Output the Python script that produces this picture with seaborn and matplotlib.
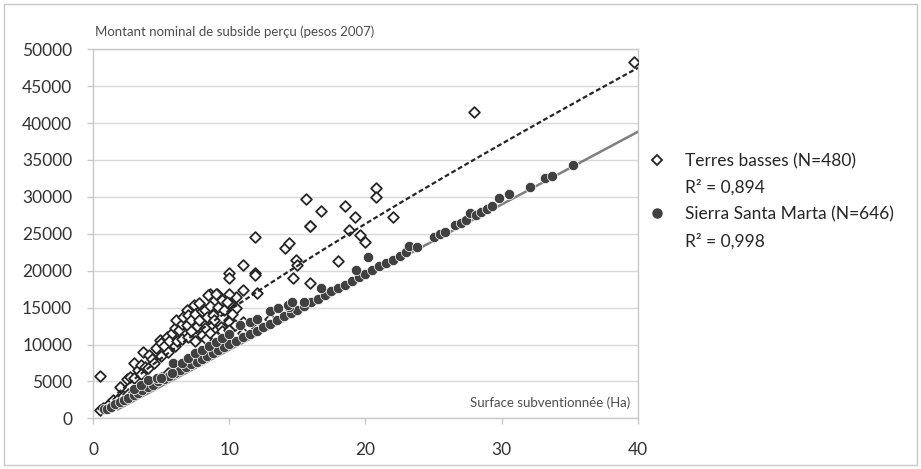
import numpy as np
import pandas as pd
import seaborn as sns
from matplotlib import pyplot as plt
from matplotlib.lines import Line2D
from matplotlib.patches import Rectangle

# Terres basses (open diamonds)
tb_x = [0.5, 28.0, 39.7, 20.8, 20.8, 15.6, 16.75, 18.5, 19.2, 15.9, 15.9, 18.8, 22.0, 19.6, 11.9,
        14.1, 14.4, 20.0, 11.0, 10.0, 10.0, 11.9, 11.9, 12.0, 14.9, 15.0, 14.7, 15.9, 18.0, 11.0,
        10.5, 10.0, 10.0, 10.5, 8.6, 9.1,
        2.0, 2.5, 2.7, 3.0, 3.3, 3.5, 3.7, 3.8, 4.1, 4.3, 4.6, 4.9, 5.0, 5.2, 5.4, 5.6, 5.8, 6.0,
        6.1, 6.3, 6.5, 6.6, 6.9, 6.9, 7.0, 7.2, 7.4, 7.5, 7.6, 7.8, 7.8, 8.0, 8.0, 8.2, 8.2, 8.4,
        8.45, 8.6, 8.8, 8.9, 9.0, 9.0, 9.2, 9.4, 9.5, 9.6, 9.8, 10.0, 10.0, 10.2,
        3.0, 3.5, 4.0, 4.5, 5.0, 5.5, 6.0, 6.2, 6.5, 7.0, 7.2, 7.5, 8.3, 8.6, 9.0, 9.5, 10.0, 10.4, 11.0,
        0.5, 0.7, 1.0, 1.2, 1.5, 1.8, 2.2, 2.6, 3.0, 3.4, 4.0, 4.5, 5.0, 5.5, 6.0, 6.5, 7.0, 7.5,
        8.0, 9.0, 10.0, 11.0, 12.0, 13.0]
tb_y = [5800, 41500, 48300, 31170, 30030, 29720, 28130, 28810, 27240, 26100, 26000, 25500, 27320, 24840, 24600,
        23030, 23700, 23850, 20770, 19650, 18970, 19650, 19400, 16940, 21450, 20800, 18970, 18290, 21360, 17380,
        16480, 16900, 15580, 15000, 16840, 16840,
        4300, 5300, 5640, 7450, 6500, 7200, 9030, 7000, 8580, 8000, 9500, 10610, 10200, 9800, 11060, 10500, 11500, 12200,
        13320, 12000, 12800, 13700, 14680, 12650, 14000, 13300, 15350, 14200, 12500, 15580, 13320, 14500, 11280, 14680, 12200, 13700,
        16700, 15200, 14000, 13320, 16900, 12000, 15130, 12430, 16000, 14680, 15800, 13320, 13000, 14200,
        5500, 6000, 6800, 7500, 8500, 9000, 9800, 10500, 10800, 11000, 11800, 10500, 10800, 11600, 11000, 11800, 12000, 12600, 13000,
        1100, 1400, 1600, 2000, 2450, 2600, 3000, 3300, 3600, 4000, 4500, 5000, 5500, 6200, 6800, 7200, 7600, 8200,
        8600, 9500, 10500, 11500, 12200, 13500]

# Sierra Santa Marta (filled circles)
ssm_x = [0.8, 1.0, 1.3, 1.6, 2.0, 2.3, 2.6, 3.0, 3.3, 3.6, 4.0, 4.4, 4.8, 5.2, 5.6, 6.0, 6.4, 6.8, 7.2, 7.6,
         8.0, 8.4, 8.8, 9.2, 9.6, 10.0, 10.5, 11.0, 11.5, 12.0, 12.5, 13.0, 13.5, 14.0, 14.5, 15.0, 15.5, 16.0,
         16.5, 17.0, 17.5, 18.0, 18.5, 19.0, 19.5, 20.0, 20.5, 21.0, 21.5, 22.0, 22.5, 23.0, 23.2, 23.8, 25.0,
         25.5, 25.8, 26.6, 27.0, 27.4, 27.7, 28.1, 28.5, 28.9, 29.3, 29.8, 30.5, 32.1, 33.2, 33.7, 35.2,
         20.2, 19.3, 16.75, 14.4, 15.5,
         3.0, 3.5, 4.05, 4.7, 5.0, 5.8, 5.9, 6.5, 7.0, 7.5, 8.0, 8.5, 9.0, 9.5, 10.0, 10.8, 11.5, 12.0, 13.0,
         13.6, 14.3, 14.6]
ssm_y = [1200, 1300, 1600, 1900, 2200, 2500, 2800, 3200, 3500, 3800, 4200, 4500, 5000, 5300, 5800, 6200, 6500, 6900, 7300, 7700,
         8100, 8500, 8900, 9300, 9700, 10100, 10500, 11000, 11400, 11900, 12400, 12800, 13300, 13800, 14300, 14700, 15200, 15700,
         16200, 16700, 17200, 17600, 18100, 18600, 19100, 19600, 20100, 20600, 21000, 21500, 22000, 22500, 23350, 23250, 24600,
         25000, 25290, 26190, 26500, 26900, 27780, 27500, 27900, 28300, 28700, 29810, 30350, 31380, 32520, 32880, 34330,
         21900, 20100, 17620, 15120, 15800,
         4000, 4500, 5190, 5400, 5400, 6100, 7450, 7500, 8200, 8800, 9300, 9800, 10300, 10900, 11400, 12640, 13000, 13500, 14500,
         15000, 15350, 15800]

# Excel trendlines
tb_power = (2072, 0.849)      # y = a * x^b
ssm_linear = (985, -570)      # y = slope * x + intercept
trend_start = 1.8
trend_end = 40

x_ticks = [0, 10, 20, 30, 40]
y_ticks = list(range(0, 50001, 5000))

sns.set_theme(style="white")
plt.rcParams["font.family"] = ["Lato", "DejaVu Sans"]

fig = plt.figure(figsize=(9.21, 4.69), dpi=100)
ax = fig.add_axes([0.101, 0.108, 0.5917, 0.787])

tb = pd.DataFrame({"x": tb_x, "y": tb_y})
ssm = pd.DataFrame({"x": ssm_x, "y": ssm_y})

sns.scatterplot(data=tb, x="x", y="y", marker="D", s=30, facecolor="white",
                edgecolor="#262626", linewidth=1.3, ax=ax, zorder=3)

xs = np.linspace(trend_start, trend_end, 200)
ax.plot(xs, tb_power[0] * xs ** tb_power[1], color="#262626", linestyle=(0, (2.2, 1.2)), linewidth=1.6, zorder=4)
ax.plot(xs, ssm_linear[0] * xs + ssm_linear[1], color="#7f7f7f", linewidth=1.8, zorder=4)

sns.scatterplot(data=ssm, x="x", y="y", marker="o", s=55, color="#404040",
                edgecolor="white", linewidth=0.5, ax=ax, zorder=5)

ax.set_xlim(0, 40)
ax.set_ylim(0, 50000)
ax.set_xticks(x_ticks)
ax.set_yticks(y_ticks)
ax.set_xlabel("")
ax.set_ylabel("")
ax.yaxis.grid(True, color="#d9d9d9", linewidth=1)
ax.xaxis.grid(False)
for sp in ax.spines.values():
    sp.set_color("#c8c8c8")
    sp.set_linewidth(1)
ax.tick_params(axis="both", which="major", labelsize=12.5, labelcolor="#333333",
               length=4, width=1, color="#c8c8c8", direction="out")
ax.tick_params(axis="y", pad=11)
ax.tick_params(axis="x", pad=13)
ax.tick_params(left=True, bottom=True)

fig.text(0.103, 0.92, "Montant nominal de subside perçu (pesos 2007)", fontsize=9.5,
         color="#4d4d4d", ha="left", va="bottom")
ax.text(0.985, 0.025, "Surface subventionnée (Ha)", transform=ax.transAxes, fontsize=9.5,
        color="#4d4d4d", ha="right", va="bottom")

handles = [
    Line2D([], [], marker="D", linestyle="", markersize=5, markerfacecolor="white",
           markeredgecolor="#262626", markeredgewidth=1.3),
    Line2D([], [], linestyle=""),
    Line2D([], [], marker="o", linestyle="", markersize=6.5, color="#404040"),
    Line2D([], [], linestyle=""),
]
labels = ["Terres basses (N=480)", "R² = 0,894", "Sierra Santa Marta (N=646)", "R² = 0,998"]
fig.legend(handles, labels, loc="center left", bbox_to_anchor=(0.704, 0.571), frameon=False,
           fontsize=12.5, labelcolor="#262626", handlelength=1.0, handletextpad=1.1,
           labelspacing=0.6, borderpad=0, borderaxespad=0)

fig.patches.append(Rectangle((4 / 921, 4 / 469), 913 / 921, 461 / 469, transform=fig.transFigure,
                             fill=False, edgecolor="#c8c8c8", linewidth=1))

fig.savefig("out.png", dpi=100)
